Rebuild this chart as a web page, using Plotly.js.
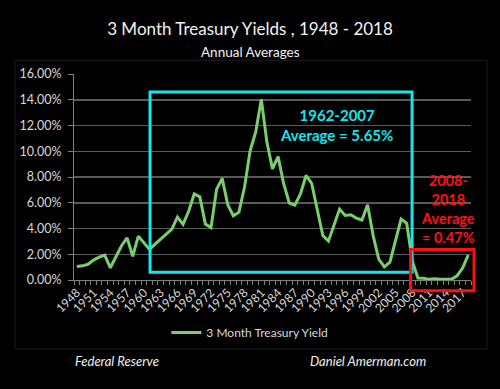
<!DOCTYPE html>
<html>
<head>
<meta charset="utf-8">
<script src="https://cdn.plot.ly/plotly-3.0.1.min.js"></script>
<style>html,body{margin:0;padding:0;background:#000;}#chart{width:500px;height:389px;}</style>
</head>
<body>
<div id="chart"></div>
<script>
const years = [];
for (let y = 1948; y <= 2018; y++) years.push(y);
const yields = [1.04,1.10,1.22,1.55,1.77,1.93,0.95,1.75,2.66,3.27,1.84,3.41,2.93,2.38,2.78,3.16,3.55,3.95,4.88,4.32,5.34,6.68,6.46,4.35,4.07,7.04,7.89,5.84,4.99,5.27,7.22,10.04,11.51,14.03,10.69,8.63,9.58,7.48,5.98,5.82,6.69,8.12,7.51,5.42,3.45,3.02,4.29,5.51,5.02,5.07,4.81,4.66,5.85,3.45,1.62,1.02,1.38,3.16,4.73,4.41,1.48,0.15,0.14,0.05,0.09,0.06,0.03,0.05,0.32,0.93,1.94];
const labelYears = [];
for (let y = 1948; y <= 2018; y += 3) labelYears.push(y);
const labelText = labelYears.map(String);
const seriesName = '3 Month Treasury Yield';
const titleText = '3 Month Treasury Yields , 1948 - 2018';
const subtitleText = 'Annual Averages';
const periodA = '1962-2007<br>Average = 5.65%';
const periodB = '2008-<br>2018<br>Average<br>= 0.47%';
const sourceLeft = 'Federal Reserve';
const sourceRight = 'Daniel Amerman.com';

const FONT = 'Lato, "Open Sans", sans-serif';
const CYAN = '#14e6ee';
const RED = '#ff1010';
const GRID = '#5a5a5a';
const TXT = '#d9d9d9';

const trace = {
  x: years, y: yields, type: 'scatter', mode: 'lines', name: seriesName,
  line: {color: '#79cf6c', width: 3}
};

const layout = {
  width: 500, height: 389,
  paper_bgcolor: '#000', plot_bgcolor: '#000',
  margin: {l: 74, r: 29, t: 74, b: 109},
  font: {family: FONT, color: TXT, size: 12},
  title: {text: titleText, font: {family: FONT, size: 17, color: '#f2f2f2'}, x: 0.5, xanchor: 'center', y: 1 - 29/389, yanchor: 'middle', yref: 'container'},
  showlegend: true,
  legend: {orientation: 'h', x: 0.443, xanchor: 'center', y: -0.255, yanchor: 'middle', font: {size: 12, color: TXT}, bgcolor: 'rgba(0,0,0,0)'},
  xaxis: {
    type: 'linear', range: [1947.5, 2018.5], showgrid: false, zeroline: false,
    tickmode: 'array', tickvals: labelYears, ticktext: labelText, tickangle: -45,
    ticks: '', tickfont: {size: 12, color: TXT},
    showline: true, linecolor: '#7f7f7f', linewidth: 1,
    minor: {tick0: 1947.5, dtick: 1, ticks: 'outside', ticklen: 4, tickcolor: '#7f7f7f', tickwidth: 1, showgrid: false}
  },
  yaxis: {
    range: [0, 16], dtick: 2, tick0: 0, tickformat: '.2f', ticksuffix: '%',
    showgrid: true, gridcolor: GRID, gridwidth: 1.5, zeroline: false,
    showline: true, linecolor: '#7f7f7f', linewidth: 1,
    ticks: 'outside', ticklen: 5, tickcolor: '#7f7f7f', ticklabelstandoff: 4,
    tickfont: {size: 12.5, color: TXT}
  },
  shapes: [
    {type: 'rect', xref: 'paper', yref: 'paper', x0: -0.1486, x1: 1.0403, y0: -0.3345, y1: 1.0664, line: {color: '#1c1c1c', width: 1}, layer: 'below'},
    {type: 'rect', xref: 'x', yref: 'y', x0: 1961.1, x1: 2007.96, y0: 0.6, y1: 14.6, line: {color: CYAN, width: 3}},
    {type: 'rect', xref: 'paper', yref: 'paper', x0: 0.848, x1: 1.0076, y0: -0.052, y1: 0.148, line: {color: RED, width: 3}}
  ],
  annotations: [
    {text: subtitleText, xref: 'paper', yref: 'paper', x: 0.445, y: 1.107, xanchor: 'center', yanchor: 'middle', showarrow: false, font: {size: 13.5, color: '#f2f2f2'}},
    {text: '<b>' + periodA.replace('<br>', '</b><br><b>') + '</b>', xref: 'x', yref: 'y', x: 1994.5, y: 12.05, xanchor: 'center', yanchor: 'middle', showarrow: false, font: {size: 15, color: CYAN}},
    {text: '<b>' + periodB.split('<br>').join('</b><br><b>') + '</b>', xref: 'x', yref: 'y', x: 2014.4, y: 5.51, xanchor: 'center', yanchor: 'middle', showarrow: false, font: {size: 14.5, color: RED}},
    {text: '<i>' + sourceLeft + '</i>', xref: 'paper', yref: 'paper', x: -0.0025, y: -0.393, xanchor: 'left', yanchor: 'middle', showarrow: false, font: {size: 13, color: '#f2f2f2'}},
    {text: '<i>' + sourceRight + '</i>', xref: 'paper', yref: 'paper', x: 0.589, y: -0.393, xanchor: 'left', yanchor: 'middle', showarrow: false, font: {size: 13, color: '#f2f2f2'}}
  ]
};

Plotly.newPlot('chart', [trace], layout, {displayModeBar: false, staticPlot: true});
</script>
</body>
</html>
